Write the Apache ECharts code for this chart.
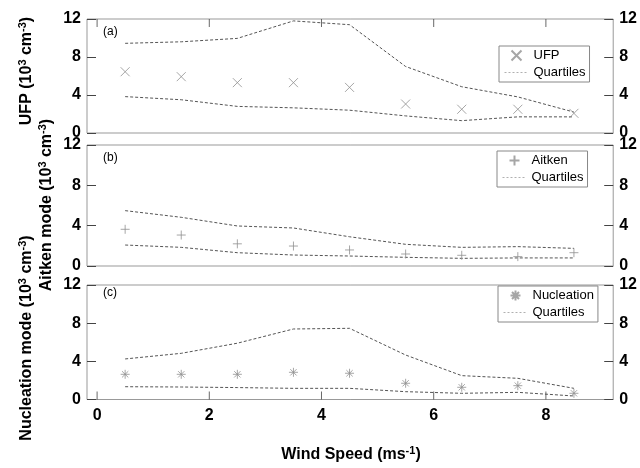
<!DOCTYPE html>
<html>
<head>
<meta charset="utf-8">
<script src="https://cdn.jsdelivr.net/npm/echarts@6/dist/echarts.min.js"></script>
<style>
  html, body { margin: 0; padding: 0; background: #fff; }
  #chart { width: 640px; height: 468px; }
</style>
</head>
<body>
<div id="chart"></div>
<script>
// wind speed bins (m/s)
var windSpeed = [0.5, 1.5, 2.5, 3.5, 4.5, 5.5, 6.5, 7.5, 8.5]
var xTicks = [0, 2, 4, 6, 8]

// UFP (10^3 cm^-3)
var ufpMedian = [6.45, 5.93, 5.3, 5.3, 4.8, 3.05, 2.5, 2.5, 2.07]
var ufpUpper = [9.44, 9.6, 9.96, 11.8, 11.4, 7.0, 4.87, 3.8, 2.2]
var ufpLower = [3.83, 3.5, 2.8, 2.65, 2.4, 1.8, 1.3, 1.7, 1.7]

// Aitken mode
var aitkenMedian = [3.64, 3.07, 2.2, 1.98, 1.59, 1.19, 1.06, 0.93, 1.32]
var aitkenUpper = [5.49, 4.83, 3.97, 3.77, 2.9, 2.15, 1.85, 1.92, 1.75]
var aitkenLower = [2.08, 1.85, 1.32, 1.09, 0.99, 0.86, 0.76, 0.8, 0.8]

// Nucleation mode
var nucMedian = [2.64, 2.64, 2.64, 2.85, 2.75, 1.7, 1.28, 1.45, 0.65]
var nucUpper = [4.25, 4.84, 5.9, 7.39, 7.46, 4.66, 2.5, 2.22, 1.17]
var nucLower = [1.34, 1.31, 1.25, 1.17, 1.17, 0.82, 0.65, 0.75, 0.37]

var FONT = 'Liberation Sans, Arial, sans-serif'
var SYM_X = 'path://M0 0L10 10M10 0L0 10'
var SYM_PLUS = 'path://M5 0L5 10M0 5L10 5'
var SYM_STAR = 'path://M5 0L5 10M0 5L10 5M1.5 1.5L8.5 8.5M8.5 1.5L1.5 8.5'

function pairs (ys) {
  return windSpeed.map(function (x, i) { return [x, ys[i]] })
}

function markers (name, sym, ys, idx) {
  return {
    name: name,
    type: 'scatter',
    xAxisIndex: idx,
    yAxisIndex: idx * 2,
    symbol: sym,
    symbolSize: 9,
    itemStyle: { color: 'transparent', borderColor: '#909090', borderWidth: 1 },
    data: pairs(ys),
    z: 3
  }
}

function quartile (ys, idx) {
  return {
    name: 'Quartiles',
    type: 'line',
    xAxisIndex: idx,
    yAxisIndex: idx * 2,
    symbol: 'none',
    lineStyle: { color: '#555', width: 1, type: [3, 2] },
    itemStyle: { color: '#555' },
    data: pairs(ys),
    z: 2
  }
}

// inward x tick marks (top of panel a, bottom of panel c)
function xTickMarks (idx, yVal, offset) {
  return {
    name: 'xticks' + idx,
    type: 'scatter',
    xAxisIndex: idx,
    yAxisIndex: idx * 2,
    symbol: 'rect',
    symbolSize: [1, 8],
    symbolOffset: [0, offset],
    silent: true,
    itemStyle: { color: '#444' },
    data: xTicks.map(function (x) { return [x, yVal] }),
    z: 4
  }
}

var grids = [
  { left: 87, right: 24, top: 19, height: 114 },
  { left: 87, right: 24, top: 145, height: 121 },
  { left: 87, right: 24, top: 285, height: 114.5 }
]

var xAxes = grids.map(function (g, i) {
  return {
    type: 'value',
    gridIndex: i,
    min: -0.18,
    max: 9.2,
    position: i === 0 ? 'top' : 'bottom',
    axisLine: { show: false, onZero: false },
    splitLine: { show: false },
    axisTick: { show: false },
    axisLabel: {
      show: i === 2,
      customValues: xTicks,
      margin: 8,
      color: '#000',
      fontSize: 16,
      fontWeight: 'bold',
      fontFamily: FONT
    }
  }
})

var yAxes = []
grids.forEach(function (g, i) {
  ['left', 'right'].forEach(function (pos) {
    yAxes.push({
      type: 'value',
      gridIndex: i,
      position: pos,
      min: 0,
      max: 12,
      interval: 4,
      axisLine: { show: false, onZero: false },
      splitLine: { show: false },
      axisTick: { show: true, inside: true, length: 9, lineStyle: { color: '#444' } },
      axisLabel: {
        margin: 6,
        color: '#000',
        fontSize: 16,
        fontWeight: 'bold',
        fontFamily: FONT
      }
    })
  })
})

function legend (name, left, top) {
  return {
    data: [
      name,
      {
        name: 'Quartiles',
        itemStyle: { color: 'transparent', borderColor: 'transparent', borderWidth: 0 },
        lineStyle: { color: '#b0b0b0', width: 1, type: [2, 2] }
      }
    ],
    orient: 'vertical',
    left: left,
    top: top,
    itemWidth: 24,
    itemHeight: 10,
    itemGap: 4,
    padding: [3, 4, 3, 5],
    borderColor: '#888',
    borderWidth: 1,
    backgroundColor: '#fff',
    selectedMode: false,
    textStyle: { fontSize: 13, color: '#000', fontFamily: FONT }
  }
}

function rich () {
  return {
    b: { fontSize: 16, fontWeight: 'bold', fontFamily: FONT, fill: '#000', lineHeight: 20 },
    s: { fontSize: 11, fontWeight: 'bold', fontFamily: FONT, fill: '#000', verticalAlign: 'top', lineHeight: 20, padding: [0, 0, 10, 0] }
  }
}

function vTitle (text, x, y) {
  return {
    type: 'text',
    x: x,
    y: y,
    rotation: Math.PI / 2,
    style: { text: text, rich: rich(), align: 'center', verticalAlign: 'middle' }
  }
}

function panelLabel (text, y) {
  return {
    type: 'text',
    x: 103,
    y: y,
    style: { text: text, fontSize: 12, fontFamily: FONT, fill: '#000', verticalAlign: 'middle' }
  }
}

var option = {
  backgroundColor: '#fff',
  animation: false,
  grid: grids.map(function (g) {
    return Object.assign({ show: true, borderColor: '#999', borderWidth: 1, backgroundColor: 'transparent' }, g)
  }),
  xAxis: xAxes,
  yAxis: yAxes,
  legend: [
    legend('UFP', 499, 46),
    legend('Aitken', 497, 151),
    legend('Nucleation', 498, 286)
  ],
  graphic: [
    vTitle('{b|UFP (10}{s|3}{b| cm}{s|-3}{b|)}', 27, 71),
    vTitle('{b|Aitken mode (10}{s|3}{b| cm}{s|-3}{b|)}', 47, 205),
    vTitle('{b|Nucleation mode (10}{s|3}{b| cm}{s|-3}{b|)}', 27, 338),
    {
      type: 'text',
      x: 351,
      y: 455,
      style: { text: '{b|Wind Speed (ms}{s|-1}{b|)}', rich: rich(), align: 'center', verticalAlign: 'middle' }
    },
    panelLabel('(a)', 32),
    panelLabel('(b)', 158),
    panelLabel('(c)', 293)
  ],
  series: [
    markers('UFP', SYM_X, ufpMedian, 0),
    quartile(ufpUpper, 0),
    quartile(ufpLower, 0),
    markers('Aitken', SYM_PLUS, aitkenMedian, 1),
    quartile(aitkenUpper, 1),
    quartile(aitkenLower, 1),
    markers('Nucleation', SYM_STAR, nucMedian, 2),
    quartile(nucUpper, 2),
    quartile(nucLower, 2),
    xTickMarks(0, 12, 4),
    xTickMarks(2, 0, -4)
  ]
}

var chart = echarts.init(document.getElementById('chart'))
chart.setOption(option)
</script>
</body>
</html>
